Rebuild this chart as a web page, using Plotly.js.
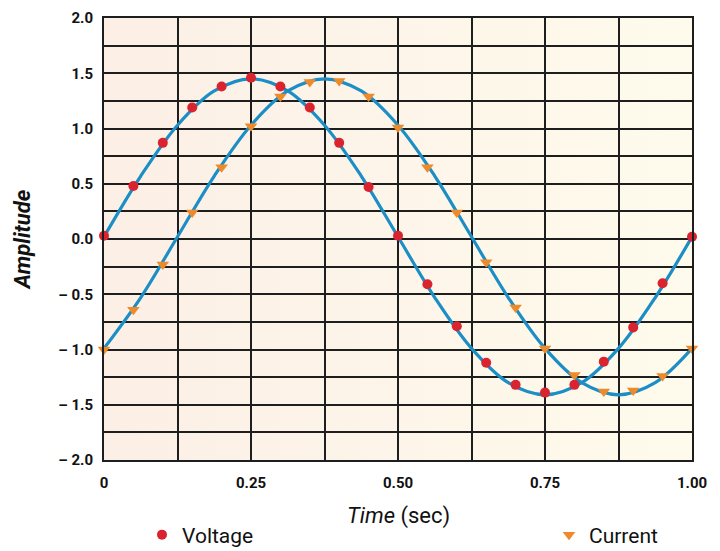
<!DOCTYPE html>
<html><head><meta charset="utf-8">
<script src="https://cdn.plot.ly/plotly-3.0.1.min.js"></script>
<style>body{margin:0;background:#fff}#chart{width:720px;height:551px}</style>
</head><body><div id="chart"></div>
<script>
// Marker samples (every 0.05 s)
const tMarkers = [0,0.05,0.10,0.15,0.20,0.25,0.30,0.35,0.40,0.45,0.50,0.55,0.60,0.65,0.70,0.75,0.80,0.85,0.90,0.95,1.00];
const voltageMarkers = [0.03,0.48,0.87,1.19,1.38,1.46,1.38,1.19,0.87,0.47,0.03,-0.41,-0.79,-1.12,-1.32,-1.39,-1.32,-1.11,-0.80,-0.40,0.02];
const currentMarkers = [-1.00,-0.64,-0.23,0.24,0.65,1.02,1.29,1.42,1.43,1.29,1.01,0.65,0.24,-0.21,-0.62,-0.99,-1.23,-1.38,-1.37,-1.24,-0.99];
// Smooth curve samples (every 1/16 s)
const tCurve = [0,0.0625,0.125,0.1875,0.25,0.3125,0.375,0.4375,0.5,0.5625,0.625,0.6875,0.75,0.8125,0.875,0.9375,1.0];
const voltageCurve = [0.02,0.57,1.03,1.34,1.45,1.34,1.03,0.57,0.02,-0.53,-0.99,-1.30,-1.41,-1.30,-0.99,-0.53,0.02];
const currentCurve = [-0.99,-0.53,0.02,0.57,1.03,1.34,1.45,1.34,1.03,0.57,0.02,-0.53,-0.99,-1.30,-1.41,-1.30,-0.99];
// Axis ticks
const xTickVals = [0,0.25,0.5,0.75,1.0];
const xTickText = ['0','0.25','0.50','0.75','1.00'];
const yTickVals = [2,1.5,1,0.5,0,-0.5,-1,-1.5,-2];
const yTickText = ['2.0','1.5','1.0','0.5','0.0','\u2013 0.5','\u2013 1.0','\u2013 1.5','\u2013 2.0'];
const xTitle = '<i>Time</i> (sec)';
const yTitle = '<b><i>Amplitude</i></b>';

const lineColor = '#1b8ec6';
const NF = 'Roboto, "Liberation Sans", Arial, sans-serif';

const gradSvg = '<svg xmlns="http://www.w3.org/2000/svg" width="100" height="100" preserveAspectRatio="none">' +
  '<defs><linearGradient id="g" x1="0" y1="0" x2="1" y2="0">' +
  '<stop offset="0" stop-color="#fcefe6"/><stop offset="1" stop-color="#fefbec"/></linearGradient></defs>' +
  '<rect width="100" height="100" fill="url(#g)"/></svg>';
const gradUrl = 'data:image/svg+xml;base64,' + btoa(gradSvg);

const traces = [
  {type:'scatter', mode:'lines', x:tCurve, y:voltageCurve, line:{color:lineColor,width:3.2,shape:'spline'}, showlegend:false, hoverinfo:'skip'},
  {type:'scatter', mode:'lines', x:tCurve, y:currentCurve, line:{color:lineColor,width:3.2,shape:'spline'}, showlegend:false, hoverinfo:'skip'},
  {type:'scatter', mode:'markers', name:'Voltage', x:tMarkers, y:voltageMarkers, legend:'legend',
   marker:{symbol:'circle', size:10, color:'#d9232e'}, cliponaxis:false},
  {type:'scatter', mode:'markers', name:'Current', x:tMarkers, y:currentMarkers, legend:'legend2',
   marker:{symbol:'triangle-down', size:11, color:'#ec8a2c'}, cliponaxis:false}
];

const legendBase = {orientation:'h', xref:'container', yref:'container', xanchor:'left', yanchor:'middle',
  font:{family:NF, size:21, color:'#111'}, bgcolor:'rgba(0,0,0,0)', borderwidth:0};

const layout = {
  width:720, height:551,
  margin:{l:104, r:28, t:18, b:91, autoexpand:false},
  paper_bgcolor:'#ffffff', plot_bgcolor:'#fdf5e9',
  showlegend:true,
  legend:Object.assign({}, legendBase, {x:142/720, y:1-535/551}),
  legend2:Object.assign({}, legendBase, {x:549/720, y:1-535/551}),
  images:[{source:gradUrl, xref:'x', yref:'y', x:0, y:2, sizex:1, sizey:4,
    sizing:'stretch', xanchor:'left', yanchor:'top', layer:'below'}],
  annotations:[{text:xTitle, xref:'paper', yref:'paper', x:0.5, y:-(516-460)/442,
    xanchor:'center', yanchor:'middle', showarrow:false, font:{family:NF, size:22, color:'#111'}}],
  xaxis:{range:[0,1], tickvals:xTickVals, ticktext:xTickText, showgrid:true,
    gridcolor:'#1e1e1e', gridwidth:2, zeroline:false, ticks:'', ticklabelstandoff:8,
    minor:{dtick:0.125, showgrid:true, gridcolor:'#1e1e1e', gridwidth:2},
    showline:true, linecolor:'#1e1e1e', linewidth:2, mirror:true,
    tickfont:{family:NF, size:15, color:'#111', weight:'bold'}},
  yaxis:{range:[-2,2], tickvals:yTickVals, ticktext:yTickText, showgrid:true,
    gridcolor:'#1e1e1e', gridwidth:2, zeroline:false, ticks:'', ticklabelstandoff:6,
    minor:{dtick:0.25, showgrid:true, gridcolor:'#1e1e1e', gridwidth:2},
    showline:true, linecolor:'#1e1e1e', linewidth:2, mirror:true,
    tickfont:{family:NF, size:15, color:'#111', weight:'bold'},
    title:{text:yTitle, font:{family:NF, size:22, color:'#111'}, standoff:22}}
};
Plotly.newPlot('chart', traces, layout, {displayModeBar:false, staticPlot:true});
</script></body></html>
